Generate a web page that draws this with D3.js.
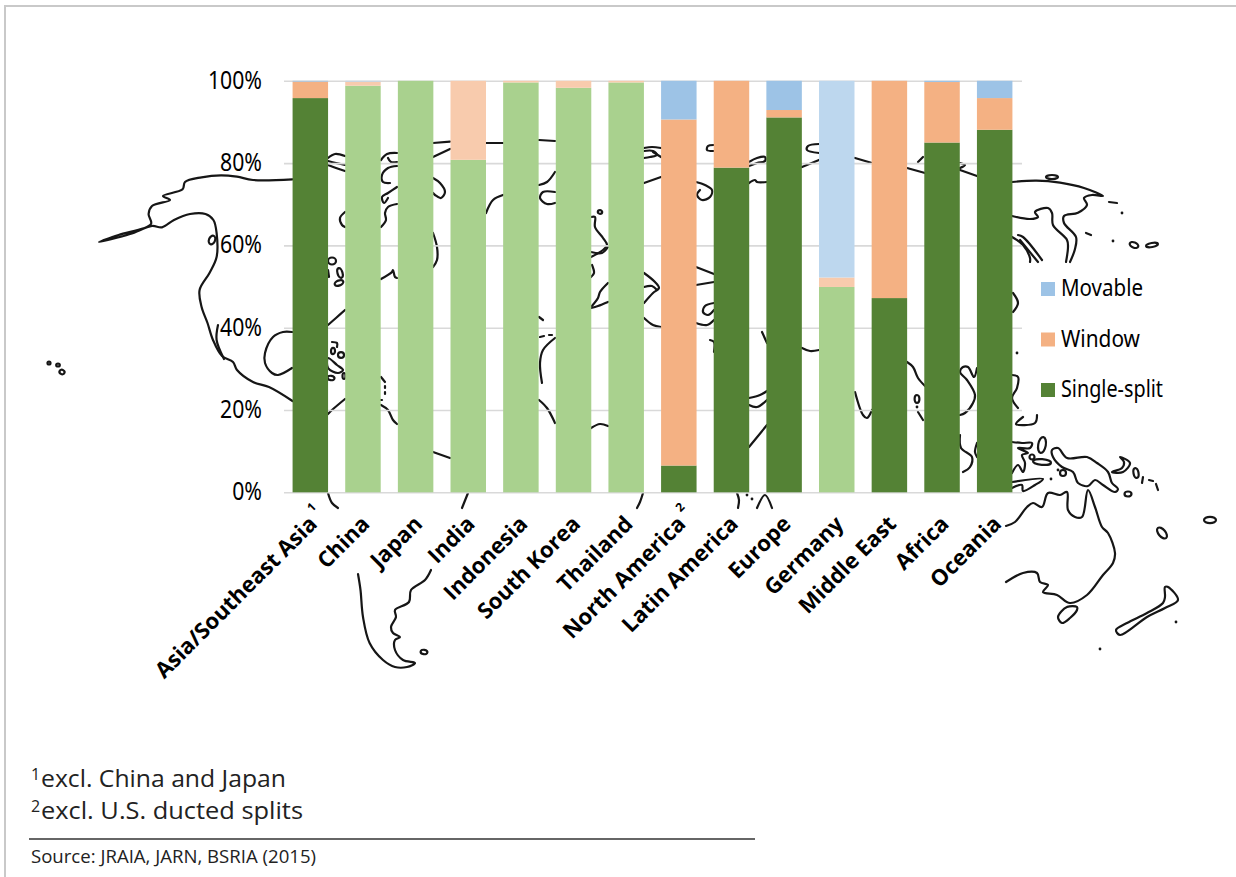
<!DOCTYPE html>
<html>
<head>
<meta charset="utf-8">
<style>
  html, body { margin: 0; padding: 0; background: #fff; }
  svg { display: block; }
</style>
<script src="https://cdn.jsdelivr.net/npm/d3@7"></script>
</head>
<body>
<svg id="chart" width="1236" height="877"></svg>
<script>
// Residential air-conditioner market share by unit type and region (percent).
const categories = ["Asia/Southeast Asia", "China", "Japan", "India", "Indonesia", "South Korea", "Thailand",
  "North America", "Latin America", "Europe", "Germany", "Middle East", "Africa", "Oceania"];
const singleSplit = [95.8, 98.8, 100, 80.8, 99.6, 98.3, 99.6, 6.5, 78.9, 91.1, 49.9, 47.2, 85.0, 88.1];
const windowUnits = [4.0, 1.0, 0, 19.2, 0.4, 1.7, 0.4, 84.1, 21.1, 1.8, 2.3, 52.8, 14.7, 7.7];
const movable = [0.2, 0.2, 0, 0, 0, 0, 0, 9.4, 0, 7.1, 47.8, 0, 0.3, 4.2];
// Single countries are tinted lighter than the regional totals.
const countries = ["China", "Japan", "India", "Indonesia", "South Korea", "Thailand", "Germany"];
const seriesNames = ["Single-split", "Window", "Movable"];
const legendOrder = ["Movable", "Window", "Single-split"];
const yTicks = [0, 20, 40, 60, 80, 100];
const footnotes = [["1", "excl. China and Japan"], ["2", "excl. U.S. ducted splits"]];
const sourceLine = "Source: JRAIA, JARN, BSRIA (2015)";
const axisMarks = [["Asia/Southeast Asia", "1"], ["North America", "2"]];

const regionColor = { "Single-split": "#548235", "Window": "#F4B183", "Movable": "#9DC3E6" };
const countryColor = { "Single-split": "#A9D18E", "Window": "#F8CBAD", "Movable": "#BDD7EE" };

// World-map backdrop: open coastline fragments, in page pixels.
const coastlines = [
  // Alaska and the west coast of North America
  [[292.5,179.3],[253,180],[237,176.7],[221,175.3],[201.6,177.3],[185,182],[182.6,189.3],[163,196],[170,200],[152,206],[148.6,214],[151,224],[118.6,235],[99,242],[130,234],[152,226],[162,227.3],[174,220],[190,214],[205.5,214],[213.4,220],[216.6,233],[216.6,257],[209.5,273],[199.6,290],[201.6,307],[207.5,323],[213,340],[222,356],[233,362],[237,370],[253,382],[269,387],[292.5,401]],
  [[218,325],[216.6,340],[224,359]],
  [[292,332],[283,332],[273,337],[265,353],[265,363],[272,373],[278,375],[292,368]],
  // Arctic islands
  [[328,158],[335,154],[345,156]], [[328,165],[336,168],[345,171]], [[328,161],[336,163],[345,165]],
  [[381,160],[387,154],[397,153]], [[397,162],[391,162],[388,158]],
  [[397,166],[388,168],[382,175],[383,182],[390,183]],
  [[397,187],[388,193],[382,197],[384,203],[388,198]],
  [[397,204],[388,207],[385,213],[386,220],[381,227]],
  [[345,212],[340,218],[342,225],[345,227]],
  [[381,279],[392,272],[393,270],[395,277],[397,278]],
  // Caribbean and northern South America
  [[328,325],[336,318],[345,310]],
  [[328,270],[329,277]],
  [[332,342],[337,343],[337,347]],
  [[328,414],[332,410],[345,399]],
  [[381,377],[385,382]], [[385,386],[385,388]], [[385,392],[385,394]], [[380,400],[382,400]],
  [[381,405],[388,410],[393,420],[397,424]],
  [[433,452],[450,458]],
  [[328,493],[332,503],[338,508]],
  [[468,493],[462,508]],
  // Southern cone
  [[358,574],[360.5,590],[363,617],[369.6,643],[383,660],[395,667],[407,667],[415,663],[403,660],[395,650],[395,640],[400,637],[393,633],[391,627],[396,617],[395,610],[409,602],[411,590],[425,580],[431,570]],
  // Gaps between the columns, running west to east
  [[433,143],[450,141.7]], [[433,157],[450,149]],
  [[433,178],[440,183],[445,192],[441,198],[435,195],[433,193]],
  [[433,233],[437,247],[437,260],[433,267]],
  [[486,143],[503,143]], [[486,213],[493,200],[503,195]],
  [[539,140],[555,141]], [[539,185],[547,182],[555,172]],
  [[555,192],[543,192],[540,198],[547,204],[555,203]],
  [[539,317],[543,320]],
  [[555,338],[543,350],[540,363],[542,383]],
  [[540,337],[544,336]], [[549,335],[552,335]],
  [[539,400],[547,408],[555,423]],
  [[591,217],[595,217],[595,227],[603,238],[607,245],[603,250],[591,257]],
  [[591,252],[602,253],[608,247]],
  [[592,265],[594,273],[591,277]],
  [[608,283],[600,292],[598,298],[591,307]],
  [[608,302],[598,306],[591,308]],
  [[591,428],[600,424],[608,426]],
  [[644,148],[652,147],[661,148]],
  [[644,151],[653,151],[657,155],[650,157],[644,158]],
  [[653,152],[661,157]],
  [[644,183],[661,177]],
  [[644,273],[655,282],[659,288],[653,293],[644,303]],
  [[644,287],[652,286],[657,290]],
  [[644,318],[653,325],[661,327]],
  [[643,493],[640,502],[637,508]],
  [[696,182],[705,185],[712,190],[710,197],[702,200],[697,195],[700,190]],
  [[714,145],[708,146],[707,150],[714,151]],
  [[696,267],[714,274]], [[696,285],[714,282]],
  [[714,303],[705,306],[703,312],[708,315],[714,310]],
  [[696,323],[707,325],[714,320]],
  [[710,340],[714,342],[714,352]],
  [[749,162],[757,158],[765,157],[765,161],[757,163],[749,166]],
  [[749,183],[755,180],[757,182],[767,182]],
  [[762,332],[767,343]],
  [[749,398],[760,395],[767,391]], [[749,405],[757,407],[767,400]],
  [[749,447],[767,425]],
  [[737,493],[739,500],[738,508]],
  [[757,508],[765,495],[772,508]],
  [[802,167],[819,160]],
  [[819,144],[808,146],[807,150],[819,153]],
  [[802,348],[810,351],[819,350]],
  [[855,158],[872,163]],
  [[855,392],[863,415],[867,418],[872,410]],
  [[907,168],[925,173]],
  [[918,162],[923,157]],
  [[907,362],[913,367],[918,378],[925,386]],
  [[918,412],[923,420]],
  [[960,170],[977,176]],
  [[960,163],[965,165],[960,168]],
  [[977,368],[974,377],[968,367],[963,367],[960,372],[967,380],[975,395],[973,403],[965,413],[960,415]],
  [[960,435],[961,448],[972,457],[970,467],[963,472]],
  [[977,443],[975,452],[977,457]],
  // Siberia, Kamchatka and Sakhalin
  [[1012,182],[1036.5,180.7],[1060,182.7],[1084,188],[1103,196],[1092,195],[1084,198],[1087,205],[1078,212.7],[1064,216],[1064,223],[1076,237],[1075,249],[1070,262]],
  [[1012,216],[1030,219],[1038,217],[1035,212],[1048,208],[1052,213],[1053,225],[1067,240],[1068,247],[1066,262]],
  [[1020,240],[1038,262]],
  [[1018,235],[1023,237],[1042,260]],
  [[1012,237],[1023,245],[1030,258],[1030,262]],
  [[1109,202],[1117,203]], [[1086,233],[1091,235]],
  // Beside the legend
  [[1013,293],[1018,303],[1013,312]],
  [[1012,375],[1018,377],[1017,388],[1012,398],[1018,408]],
  // Indonesia and the western Pacific
  [[1037,415],[1035,423],[1016,424],[1023,417]],
  [[1012,442],[1022,443],[1032,443],[1030,448],[1018,448],[1028,453],[1022,455],[1025,463],[1023,472],[1018,465],[1012,473]],
  [[1012,482],[1043,479],[1035,485],[1023,491],[1022,485],[1012,488]],
  [[1143,477],[1142,483]], [[1149,480],[1153,481]], [[1156,484],[1158,490]],
  // Australian coast
  [[1006,526],[1015,522],[1027,507],[1033,503],[1042,507],[1048,493],[1060,495],[1067,492],[1068,510],[1075,517],[1082,517],[1088,490],[1095,507],[1102,527],[1108,533],[1115,553],[1113,563],[1103,575],[1087,595],[1070,603],[1057,595],[1043,592],[1048,585],[1040,582],[1037,573],[1023,573],[1006,582]]
];

// Closed shapes: large islands.
const closedCoastlines = [
  [[328,358],[337,365],[343,370],[338,373],[328,368]],
  [[1052,450],[1058,448],[1067,458],[1087,457],[1097,463],[1108,472],[1112,483],[1118,489],[1115,492],[1103,485],[1095,480],[1088,486],[1078,483],[1073,472],[1062,467],[1053,457]],
  [[1120,457],[1130,463],[1123,472],[1112,472],[1122,468],[1124,462]],
  [[1077,607],[1067,607],[1058,617],[1062,623],[1070,618],[1077,610]],
  [[1165,587],[1168,587],[1178,600],[1165,608],[1147,617],[1120,635],[1116,630],[1127,623],[1147,613],[1163,603],[1165,597]]
];

// Small islands as ellipses: centre x, centre y, radius x, radius y, rotation.
const islands = [
  [49,363,1.5,1.5,0],[58,365,1.8,1.5,0],[62,372,2.6,2.2,30],
  [212,240,3,4.5,20],
  [332,261,4,3.5,0],[340,273,2.5,5,-15],[339,283,4.5,2.5,-20],
  [333,351,2,3.2,0],[341,355,3,2.8,0],[331,378,3.5,2.2,10],[344,376,1.5,3,0],
  [424,652,3.4,2.2,10],
  [600,212,2.2,1.8,0],
  [917,399,2.4,4,0],
  [1052,177,6,2,0],[1032,457,2.5,2.5,0],[1042,445,3.8,8,10],[1042,462,9,2.8,5],
  [1063,473,3,3,0],[1136,473,2.5,5,-10],[1128,494,3.5,2.5,0],
  [1162,533,6.5,3.5,50],[1210,520,6,3.2,0],
  [1134,245,4.5,2.6,20],[1152,245,6,2,-10]
];
const specks = [[917,407],[1017,353],[1122,213],[1113,241],[1051,479],[1058,470],[1176,622],[1100,649],[747,495],[752,499]];

const svg = d3.select("#chart");

// Page frame along the top and left edges.
svg.append("path").attr("d", d3.line()([[5, 877], [5, 6], [1236, 6]]))
  .attr("fill", "none").attr("stroke", "#C9C9C9").attr("stroke-width", 2);

// Map backdrop under the chart.
const map = svg.append("g").attr("fill", "none").attr("stroke", "#161616")
  .attr("stroke-width", 2.2).attr("stroke-linejoin", "round").attr("stroke-linecap", "round");
const openLine = d3.line().curve(d3.curveCatmullRom.alpha(0.5));
const closedLine = d3.line().curve(d3.curveCatmullRomClosed.alpha(0.5));
map.selectAll("path.open").data(coastlines).join("path").attr("class", "open").attr("d", openLine);
map.selectAll("path.closed").data(closedCoastlines).join("path").attr("class", "closed").attr("d", closedLine);
map.selectAll("ellipse").data(islands).join("ellipse")
  .attr("rx", d => d[2]).attr("ry", d => d[3])
  .attr("transform", d => `translate(${d[0]},${d[1]}) rotate(${d[4]})`);
svg.append("g").attr("fill", "#161616").selectAll("circle").data(specks).join("circle")
  .attr("cx", d => d[0]).attr("cy", d => d[1]).attr("r", 1.4);

// Scales
const x = d3.scaleBand().domain(categories).range([284, 1021]).paddingInner(0.326).paddingOuter(0.163);
const y = d3.scaleLinear().domain([0, 100]).range([492.3, 80.8]);

// Value axis with gridlines.
const yAxis = svg.append("g").attr("transform", "translate(284,0)")
  .call(d3.axisLeft(y).tickValues(yTicks).tickFormat(d => d + "%").tickSize(-738).tickPadding(0));
yAxis.select(".domain").remove();
yAxis.selectAll(".tick line").attr("stroke", "#D9D9D9").attr("stroke-width", 1.6);
yAxis.selectAll(".tick text")
  .attr("font-family", "'Noto Sans'").attr("font-size", 25).attr("fill", "#000")
  .attr("text-anchor", "end").attr("dy", "0.3em").attr("x", 0)
  .attr("transform", "translate(-22,0) scale(0.85,1)");

// Stacked columns.
const table = categories.map((c, i) => ({ category: c, "Single-split": singleSplit[i], "Window": windowUnits[i], "Movable": movable[i] }));
const stacked = d3.stack().keys(seriesNames)(table);
svg.append("g").selectAll("g").data(stacked).join("g")
  .selectAll("rect").data(s => s.map(d => ({ key: s.key, y0: d[0], y1: d[1], category: d.data.category })))
  .join("rect")
  .attr("x", d => x(d.category)).attr("width", x.bandwidth())
  .attr("y", d => y(d.y1)).attr("height", d => y(d.y0) - y(d.y1))
  .attr("fill", d => (countries.includes(d.category) ? countryColor : regionColor)[d.key]);

// Category axis with rotated labels.
const xAxis = svg.append("g").attr("transform", "translate(0,492.3)")
  .call(d3.axisBottom(x).tickSize(0));
xAxis.select(".domain").remove();
xAxis.selectAll(".tick text")
  .attr("font-family", "'Open Sans'").attr("font-weight", 700).attr("font-size", 22).attr("fill", "#000")
  .attr("text-anchor", "end").attr("y", 0).attr("dy", 0)
  .attr("transform", "translate(8,33) rotate(-45)");

// Superscript markers on the two qualified categories.
svg.append("g").selectAll("text").data(axisMarks).join("text")
  .attr("transform", d => `translate(${x(d[0]) + x.bandwidth() / 2 + 4},${510}) rotate(-45)`)
  .attr("font-family", "'Open Sans'").attr("font-weight", 700).attr("font-size", 12)
  .attr("text-anchor", "middle").text(d => d[1]);

// Legend
const legendY = d3.scalePoint().domain(legendOrder).range([289, 390]);
const legend = svg.append("g").selectAll("g").data(legendOrder).join("g")
  .attr("transform", d => `translate(1041,${legendY(d)})`);
legend.append("rect").attr("y", -7).attr("width", 14).attr("height", 14).attr("fill", d => regionColor[d]);
legend.append("text").attr("x", 20).attr("y", 7)
  .attr("font-family", "'Noto Sans'").attr("font-size", 24).attr("fill", "#000")
  .attr("textLength", d => ({ "Movable": 82, "Window": 79, "Single-split": 102 })[d])
  .attr("lengthAdjust", "spacingAndGlyphs").text(d => d);

// Footnotes and source line.
const noteWidths = [245, 262];
const notes = svg.append("g").selectAll("text").data(footnotes).join("text")
  .attr("x", 31).attr("y", (d, i) => 787 + i * 31.5)
  .attr("font-family", "'Open Sans'").attr("font-size", 24.5).attr("fill", "#222");
notes.append("tspan").attr("font-size", 16).attr("dy", -7).text(d => d[0]);
notes.append("tspan").attr("x", 41).attr("dy", 7)
  .attr("textLength", (d, i) => noteWidths[i]).attr("lengthAdjust", "spacingAndGlyphs").text(d => d[1]);

svg.append("path").attr("d", d3.line()([[29, 839], [755, 839]])).attr("stroke", "#333").attr("stroke-width", 1.4);
svg.append("text").attr("x", 31).attr("y", 862.5)
  .attr("font-family", "'Open Sans'").attr("font-size", 17.5).attr("fill", "#222")
  .attr("textLength", 285).attr("lengthAdjust", "spacingAndGlyphs").text(sourceLine);
</script>
</body>
</html>
